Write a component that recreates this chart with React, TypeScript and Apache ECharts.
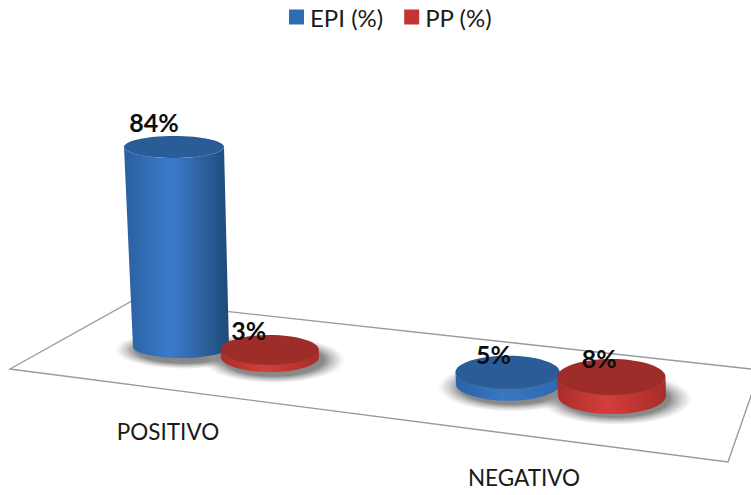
import React, { useEffect, useRef } from "react";
import * as echarts from "echarts";

const categories = ["POSITIVO", "NEGATIVO"];
const seriesNames = ["EPI (%)", "PP (%)"];
const epiValues = [84, 5];
const ppValues = [3, 8];

const FONT = "Lato, 'Open Sans', sans-serif";

// Placement of each cylinder on the tilted floor, per series and category.
const placements = [
  [
    { dx: -43, ry: 11, rx: 48, lx: -20, ly: -25 },
    { dx: -52, ry: 16.5, rx: 52, lx: -14, ly: -18 },
  ],
  [
    { dx: 46, ry: 15, rx: 49, lx: -21, ly: -20 },
    { dx: 52, ry: 18, rx: 54, lx: -12, ly: -19 },
  ],
];

const palettes = [
  { left: "#2a5f9f", right: "#1f4a78", mid: "#3a7ccb", top: "#2a5c98", discLeft: "#2a62a6", discRight: "#2f69b0", discMid: "#3877c2" },
  { left: "#96282a", right: "#8a2321", mid: "#d13c38", top: "#9e2d2a", discLeft: "#a92d2a", discRight: "#a92c29", discMid: "#d43e3a" },
];

const FLOOR_SLOPE = 0.1137;
const floorY = (x: number, y0: number) => y0 - 11 + FLOOR_SLOPE * (x - 181);

function sideGradient(left: string, mid: string, right: string) {
  return new echarts.graphic.LinearGradient(0, 0, 1, 0, [
    { offset: 0, color: left },
    { offset: 0.45, color: mid },
    { offset: 1, color: right },
  ]);
}

// Soft halo under a cylinder, fading out towards the floor.
function haloGradient() {
  return new echarts.graphic.RadialGradient(0.5, 0.5, 0.5, [
    { offset: 0, color: "rgba(120,120,120,0.95)" },
    { offset: 0.7, color: "rgba(125,125,125,0.9)" },
    { offset: 1, color: "rgba(170,170,170,0)" },
  ]);
}

function cylinderRenderer(seriesIndex: number) {
  const colors = palettes[seriesIndex];
  return (params: any, api: any) => {
    const cat = api.value(0) as number;
    const value = api.value(1) as number;
    const place = placements[seriesIndex][cat];
    const origin = api.coord([cat, 0]);
    const height = api.size([0, value])[1];

    const bx = origin[0] + place.dx;
    const by = floorY(bx, origin[1]);
    // Tall columns lean slightly to the left and widen towards the viewer.
    const tx = bx - height * 0.035;
    const ty = by - height;
    const trx = place.rx + height * 0.01;
    const ry = place.ry;
    const tall = height > 50;

    const side =
      `M${tx - trx} ${ty}` +
      `L${bx - place.rx} ${by}` +
      `A${place.rx} ${ry} 0 0 0 ${bx + place.rx} ${by}` +
      `L${tx + trx} ${ty}` +
      `A${trx} ${ry} 0 0 1 ${tx - trx} ${ty}Z`;

    return {
      type: "group",
      children: [
        {
          type: "ellipse",
          z2: -5,
          shape: { cx: bx + 4, cy: by + 3, rx: place.rx + 22, ry: ry + 8 },
          style: { fill: haloGradient() },
        },
        {
          type: "path",
          z2: seriesIndex * 10 + 1,
          shape: { pathData: side },
          style: {
            fill: tall
              ? sideGradient(colors.left, colors.mid, colors.right)
              : sideGradient(colors.discLeft, colors.discMid, colors.discRight),
          },
        },
        {
          type: "ellipse",
          z2: seriesIndex * 10 + 2,
          shape: { cx: tx, cy: ty, rx: trx, ry },
          style: { fill: colors.top },
        },
        {
          type: "text",
          z2: 50,
          style: {
            text: `${value}%`,
            x: tx + place.lx,
            y: ty + place.ly,
            fill: "#0d0d0d",
            font: `bold 25px ${FONT}`,
            align: "center",
            verticalAlign: "middle",
          },
        },
      ],
    };
  };
}

const categoryLabelPositions = [
  { x: 168, y: 431 },
  { x: 524, y: 477 },
];

export default function App() {
  const ref = useRef<HTMLDivElement>(null);

  useEffect(() => {
    document.body.style.margin = "0";
    const chart = echarts.init(ref.current!, null, { renderer: "svg" });
    chart.setOption({
      animation: false,
      backgroundColor: "#ffffff",
      legend: {
        data: seriesNames,
        left: 284,
        top: 0,
        icon: "rect",
        itemWidth: 15,
        itemHeight: 15,
        itemGap: 21,
        textStyle: { fontFamily: FONT, fontSize: 24, color: "#1a1a1a", padding: [0, 0, 0, 1] },
      },
      grid: { left: 56, width: 672, top: 120, height: 238 },
      xAxis: { type: "category", data: categories, show: false },
      yAxis: { type: "value", min: 0, max: 100, show: false },
      graphic: [
        {
          type: "polygon",
          z: 0,
          shape: {
            points: [
              [10, 369],
              [132, 301],
              [760, 370],
              [728, 462],
            ],
          },
          style: { fill: "#ffffff", stroke: "#9a9a9a", lineWidth: 1.4 },
        },
        ...categories.map((name, i) => ({
          type: "text",
          z: 3,
          style: {
            text: name,
            x: categoryLabelPositions[i].x,
            y: categoryLabelPositions[i].y,
            fill: "#1a1a1a",
            font: `22.5px ${FONT}`,
            align: "center",
            verticalAlign: "middle",
          },
        })),
      ],
      series: [
        {
          name: seriesNames[0],
          type: "custom",
          clip: false,
          silent: true,
          itemStyle: { color: "#2f6cb4" },
          encode: { x: 0, y: 1 },
          data: epiValues.map((v, i) => [i, v]),
          renderItem: cylinderRenderer(0),
        },
        {
          name: seriesNames[1],
          type: "custom",
          clip: false,
          silent: true,
          itemStyle: { color: "#c23531" },
          encode: { x: 0, y: 1 },
          data: ppValues.map((v, i) => [i, v]),
          renderItem: cylinderRenderer(1),
        },
      ],
    });
    return () => chart.dispose();
  }, []);

  return <div ref={ref} style={{ width: 751, height: 495, overflow: "hidden" }} />;
}
